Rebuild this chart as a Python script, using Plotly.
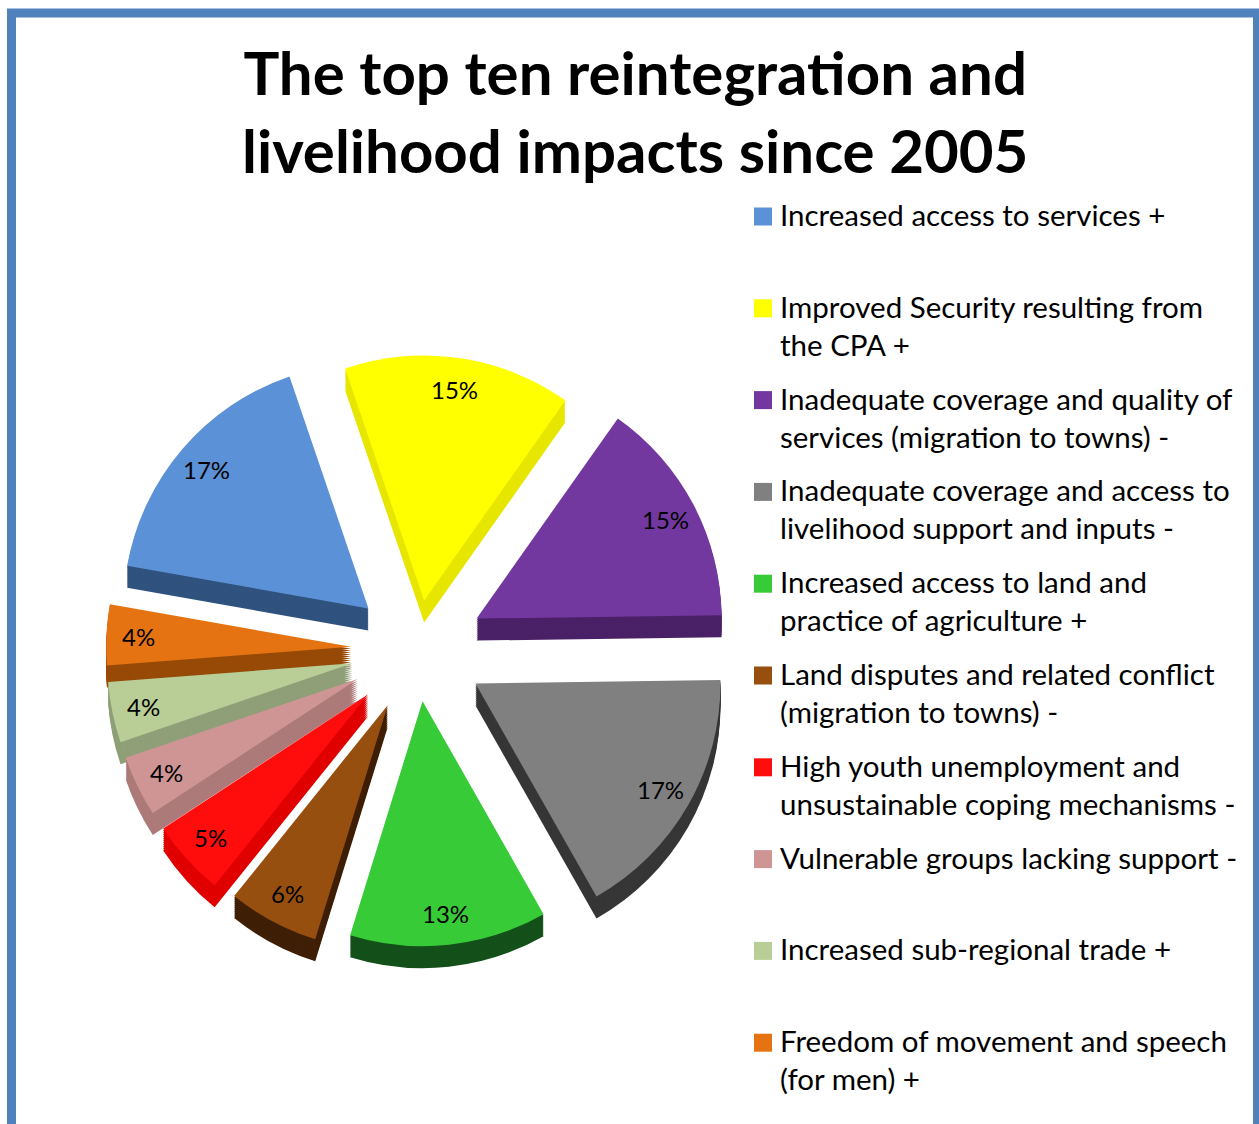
import math
import plotly.graph_objects as go

TITLE = "The top ten reintegration and<br>livelihood impacts since 2005"
categories = [
    "Increased access to services +",
    "Improved Security resulting from<br>the CPA +",
    "Inadequate coverage and quality of<br>services (migration to towns) -",
    "Inadequate coverage and access to<br>livelihood support and inputs -",
    "Increased access to land and<br>practice of agriculture +",
    "Land disputes and related conflict<br>(migration to towns) -",
    "High youth unemployment and<br>unsustainable coping mechanisms -",
    "Vulnerable groups lacking support -",
    "Increased sub-regional trade +",
    "Freedom of movement and speech<br>(for men) +",
]
values = [17, 15, 15, 17, 13, 6, 5, 4, 4, 4]
colors = ["#5b91d6", "#ffff00", "#7338a0", "#808080", "#38cb38",
          "#974f0f", "#ff0d0d", "#cf9595", "#b9cd96", "#e57311"]
dark_colors = ["#30527e", "#e6e600", "#4a2066", "#363636", "#14501a",
               "#3f1f05", "#e00000", "#ad7a7a", "#8f9f78", "#974a06"]
pulls = [0.261, 0.204, 0.275, 0.275, 0.21, 0.255, 0.269, 0.269, 0.269, 0.269]
ROTATION = 280

W, H = 1259, 1124
CX, CY, PIE_R = 417, 650, 245
DEPTH = 22
FONT = "Lato"

R = PIE_R * (1 + max(pulls))


def domain(dy):
    return dict(
        x=[(CX - R) / W, (CX + R) / W],
        y=[1 - (CY + dy + R) / H, 1 - (CY + dy - R) / H],
    )


fig = go.Figure()
for dy in range(DEPTH, 0, -2):
    fig.add_trace(go.Pie(
        labels=categories, values=values, sort=False, direction="clockwise",
        rotation=ROTATION, pull=pulls, domain=domain(dy),
        marker=dict(colors=dark_colors, line=dict(width=0)),
        textinfo="none", showlegend=False, hoverinfo="skip",
    ))
fig.add_trace(go.Pie(
    labels=categories, values=values, sort=False, direction="clockwise",
    rotation=ROTATION, pull=pulls, domain=domain(0),
    marker=dict(colors=colors, line=dict(width=0)),
    textinfo="none",
    showlegend=False,
))

annotations = []

# percent labels sit near the rim of each slice, as in the reference
total = sum(values)
cumulative = 0
for v, pull in zip(values, pulls):
    mid = math.radians(ROTATION + (cumulative + v / 2) / total * 360)
    cumulative += v
    dist = PIE_R * (pull + 0.87)
    annotations.append(dict(
        xref="paper", yref="paper",
        x=(CX + dist * math.sin(mid)) / W, y=1 - (CY - dist * math.cos(mid)) / H,
        xanchor="center", yanchor="middle", showarrow=False,
        text=f"{round(v / total * 100)}%",
        font=dict(family=FONT, size=24, color="#000000"),
    ))

# hand-placed legend: rows sit on a fixed pitch regardless of line count
LEG_TOP, LEG_STEP = 216.5, 91.8
shapes = [dict(type="rect", xref="paper", yref="paper", x0=11.5 / W, x1=1257.5 / W,
               y0=1 - 1140 / H, y1=1 - 13 / H,
               line=dict(color="#4f81bd", width=9), fillcolor="rgba(0,0,0,0)", layer="below")]
for i, (name, col) in enumerate(zip(categories, colors)):
    yc = LEG_TOP + i * LEG_STEP
    shapes.append(dict(type="rect", xref="paper", yref="paper",
                       x0=754 / W, x1=772 / W, y0=1 - (yc + 9) / H, y1=1 - (yc - 9) / H,
                       fillcolor=col, line=dict(width=0)))
    annotations.append(dict(xref="paper", yref="paper", x=778 / W, y=1 - (yc - 21.5) / H,
                            xanchor="left", yanchor="top", align="left", showarrow=False,
                            text=name, font=dict(family=FONT, size=29.5, color="#000000")))

annotations.append(dict(xref="paper", yref="paper", x=635 / W, y=1 - 34 / H,
                        xanchor="center", yanchor="top", align="center", showarrow=False,
                        text="<b>" + TITLE.replace("<br>", "</b><br><b>") + "</b>",
                        font=dict(family=FONT, size=60, color="#000000")))

fig.update_layout(width=W, height=H, margin=dict(l=0, r=0, t=0, b=0),
                  paper_bgcolor="#ffffff", shapes=shapes, annotations=annotations,
                  showlegend=False)
fig.write_html("out.html", post_script="document.body.style.margin='0';",
               config=dict(displayModeBar=False))
